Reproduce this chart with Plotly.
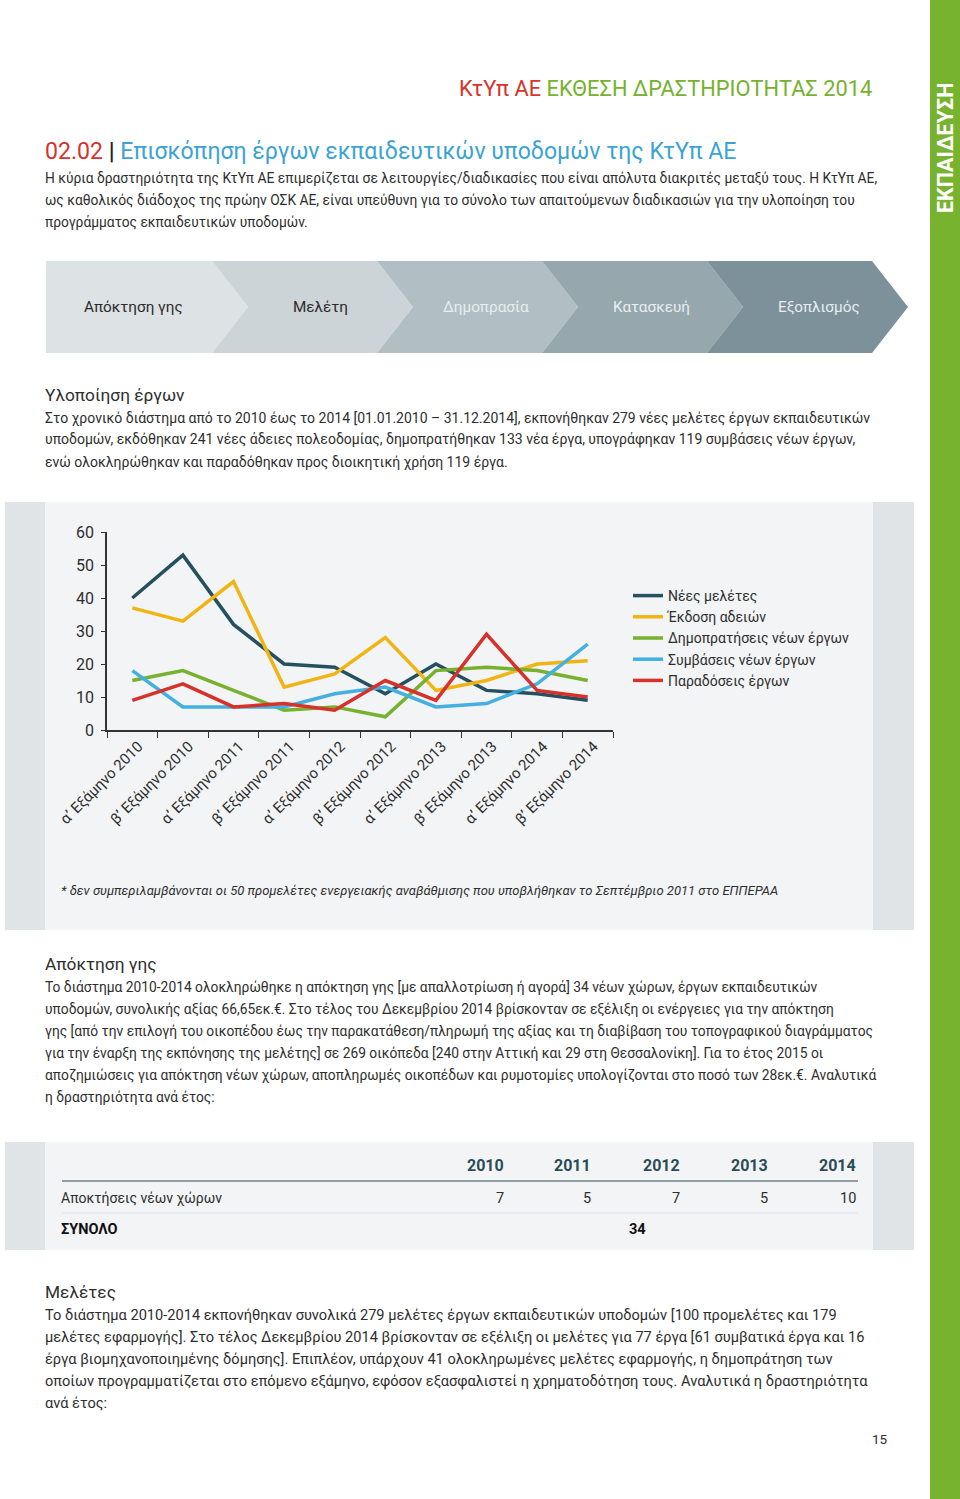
import plotly.graph_objects as go

W, H = 960, 1499

def X(px):
    return px / W

def Y(py):
    return 1 - py / H

# ---------------- data ----------------
periods = ["α’ Εξάμηνο 2010", "β’ Εξάμηνο 2010", "α’ Εξάμηνο 2011", "β’ Εξάμηνο 2011",
           "α’ Εξάμηνο 2012", "β’ Εξάμηνο 2012", "α’ Εξάμηνο 2013", "β’ Εξάμηνο 2013",
           "α’ Εξάμηνο 2014", "β’ Εξάμηνο 2014"]
new_studies = [40, 53, 32, 20, 19, 11, 20, 12, 11, 9]
permits = [37, 33, 45, 13, 17, 28, 12, 15, 20, 21]
tenders = [15, 18, 12, 6, 7, 4, 18, 19, 18, 15]
contracts = [18, 7, 7, 7, 11, 13, 7, 8, 14, 26]
deliveries = [9, 14, 7, 8, 6, 15, 9, 29, 12, 10]

series_names = ["Νέες μελέτες", "Έκδοση αδειών", "Δημοπρατήσεις νέων έργων",
                "Συμβάσεις νέων έργων", "Παραδόσεις έργων"]
series_colors = ["#24505f", "#f0b515", "#77b12f", "#43b0e0", "#d7312a"]

y_ticks = [0, 10, 20, 30, 40, 50, 60]

stages = ["Απόκτηση γης", "Μελέτη", "Δημοπρασία", "Κατασκευή", "Εξοπλισμός"]
stage_colors = ["#dde2e5", "#cdd4d8", "#b1bec4", "#96a7ae", "#7c9199"]
stage_text_colors = ["#2b2b2b", "#2b2b2b", "#e8edef", "#e8edef", "#e8edef"]

table_years = ["2010", "2011", "2012", "2013", "2014"]
acquisitions = [7, 5, 7, 5, 10]
table_row_label = "Αποκτήσεις νέων χώρων"
table_total_label = "ΣΥΝΟΛΟ"

FONT = "Roboto"
TXT = "#2e2e2e"

fig = go.Figure()
for name, vals, col in zip(series_names,
                           [new_studies, permits, tenders, contracts, deliveries],
                           series_colors):
    fig.add_trace(go.Scatter(x=periods, y=vals, name=name, mode="lines",
                             legendgroup=name,
                             line=dict(color=col, width=3.5)))

shapes = []
ann = []

# green side bar
shapes.append(dict(type="rect", xref="paper", yref="paper", x0=X(930), x1=X(960),
                   y0=0, y1=1, fillcolor="#77b32e", line_width=0, layer="below"))
ann.append(dict(text="<b>ΕΚΠΑΙΔΕΥΣΗ</b>", x=X(945), y=Y(148), textangle=-90,
                font=dict(family=FONT, size=21.5, color="white"),
                xanchor="center", yanchor="middle"))

# grey panels
def panel(y0, y1):
    shapes.append(dict(type="rect", xref="paper", yref="paper", x0=X(5), x1=X(914),
                       y0=Y(y1), y1=Y(y0), fillcolor="#f3f4f6", line_width=0, layer="below"))
    shapes.append(dict(type="rect", xref="paper", yref="paper", x0=X(5), x1=X(45),
                       y0=Y(y1), y1=Y(y0), fillcolor="#e0e4e7", line_width=0, layer="below"))
    shapes.append(dict(type="rect", xref="paper", yref="paper", x0=X(873), x1=X(914),
                       y0=Y(y1), y1=Y(y0), fillcolor="#e0e4e7", line_width=0, layer="below"))

panel(502, 930)
panel(1142, 1250)

# chevrons
top, bot, mid = 261, 353, 307
start = 46
step = 165
tip = 36
text_x = [133, 320, 486, 651, 819]
for i, (lab, col, tcol) in enumerate(zip(stages, stage_colors, stage_text_colors)):
    xe = start + (i + 1) * step + 1
    if i == 0:
        xs = start
        path = f"M {X(xs)} {Y(top)} L {X(xe)} {Y(top)} L {X(xe + tip)} {Y(mid)} L {X(xe)} {Y(bot)} L {X(xs)} {Y(bot)} Z"
    else:
        xs = start + i * step + 1
        path = (f"M {X(xs)} {Y(top)} L {X(xe)} {Y(top)} L {X(xe + tip)} {Y(mid)} "
                f"L {X(xe)} {Y(bot)} L {X(xs)} {Y(bot)} L {X(xs + tip)} {Y(mid)} Z")
    shapes.append(dict(type="path", xref="paper", yref="paper", path=path,
                       fillcolor=col, line_width=0, layer="below"))
    ann.append(dict(text=lab, x=X(text_x[i]), y=Y(mid), xanchor="center", yanchor="middle",
                    font=dict(family=FONT, size=15.3, color=tcol)))

# header
ann.append(dict(text="<span style='color:#d5332b'>ΚτΥπ ΑΕ</span> ΕΚΘΕΣΗ ΔΡΑΣΤΗΡΙΟΤΗΤΑΣ 2014",
                x=X(874), y=Y(88), xanchor="right", yanchor="middle",
                font=dict(family=FONT, size=21.8, color="#77b12f")))
ann.append(dict(text="<span style='color:#d5332b'>02.02</span> <span style='color:#222'><b>|</b></span> Επισκόπηση έργων εκπαιδευτικών υποδομών της ΚτΥπ ΑΕ",
                x=X(43), y=Y(152), xanchor="left", yanchor="middle",
                font=dict(family=FONT, size=23.1, color="#3ba3d3")))

def para(lines, y0, size=13.8, dy=22):
    for k, line in enumerate(lines):
        ann.append(dict(text=line, x=X(43), y=Y(y0 + k * dy), xanchor="left", yanchor="middle",
                        font=dict(family=FONT, size=size, color=TXT)))

def heading(text, y):
    ann.append(dict(text=text, x=X(43), y=Y(y), xanchor="left", yanchor="middle",
                    font=dict(family=FONT, size=17.3, color=TXT)))

para(["Η κύρια δραστηριότητα της ΚτΥπ ΑΕ επιμερίζεται σε λειτουργίες/διαδικασίες που είναι απόλυτα διακριτές μεταξύ τους. Η ΚτΥπ ΑΕ,",
      "ως καθολικός διάδοχος της πρώην ΟΣΚ ΑΕ, είναι υπεύθυνη για το σύνολο των απαιτούμενων διαδικασιών για την υλοποίηση του",
      "προγράμματος εκπαιδευτικών υποδομών."], 178)

heading("Υλοποίηση έργων", 395)
para(["Στο χρονικό διάστημα από το 2010 έως το 2014 [01.01.2010 – 31.12.2014], εκπονήθηκαν 279 νέες μελέτες έργων εκπαιδευτικών",
      "υποδομών, εκδόθηκαν 241 νέες άδειες πολεοδομίας, δημοπρατήθηκαν 133 νέα έργα, υπογράφηκαν 119 συμβάσεις νέων έργων,",
      "ενώ ολοκληρώθηκαν και παραδόθηκαν προς διοικητική χρήση 119 έργα."], 418, size=14)

ann.append(dict(text="<i>* δεν συμπεριλαμβάνονται οι 50 προμελέτες ενεργειακής αναβάθμισης που υποβλήθηκαν το Σεπτέμβριο 2011 στο ΕΠΠΕΡΑΑ</i>",
                x=X(59), y=Y(890), xanchor="left", yanchor="middle",
                font=dict(family=FONT, size=13, color=TXT)))

heading("Απόκτηση γης", 964)
para(["Το διάστημα 2010-2014 ολοκληρώθηκε η απόκτηση γης [με απαλλοτρίωση ή αγορά] 34 νέων χώρων, έργων εκπαιδευτικών",
      "υποδομών, συνολικής αξίας 66,65εκ.€. Στο τέλος του Δεκεμβρίου 2014 βρίσκονταν σε εξέλιξη οι ενέργειες για την απόκτηση",
      "γης [από την επιλογή του οικοπέδου έως την παρακατάθεση/πληρωμή της αξίας και τη διαβίβαση του τοπογραφικού διαγράμματος",
      "για την έναρξη της εκπόνησης της μελέτης] σε 269 οικόπεδα [240 στην Αττική και 29 στη Θεσσαλονίκη]. Για το έτος 2015 οι",
      "αποζημιώσεις για απόκτηση νέων χώρων, αποπληρωμές οικοπέδων και ρυμοτομίες υπολογίζονται στο ποσό των 28εκ.€. Αναλυτικά",
      "η δραστηριότητα ανά έτος:"], 987)

# table
year_x = [506, 593, 682, 770, 858]
for yx, yr, v in zip(year_x, table_years, acquisitions):
    ann.append(dict(text=f"<b>{yr}</b>", x=X(yx), y=Y(1165), xanchor="right", yanchor="middle",
                    font=dict(family=FONT, size=16, color="#2a4b58")))
    ann.append(dict(text=str(v), x=X(yx), y=Y(1198), xanchor="right", yanchor="middle",
                    font=dict(family=FONT, size=14.5, color=TXT)))
shapes.append(dict(type="line", xref="paper", yref="paper", x0=X(62), x1=X(858),
                   y0=Y(1181), y1=Y(1181), line=dict(color="#8e9fa7", width=2)))
shapes.append(dict(type="line", xref="paper", yref="paper", x0=X(62), x1=X(858),
                   y0=Y(1213), y1=Y(1213), line=dict(color="#dfe3e6", width=1)))
ann.append(dict(text=table_row_label, x=X(59), y=Y(1198), xanchor="left", yanchor="middle",
                font=dict(family=FONT, size=14, color=TXT)))
ann.append(dict(text=f"<b>{table_total_label}</b>", x=X(59), y=Y(1229), xanchor="left", yanchor="middle",
                font=dict(family=FONT, size=14.5, color="#111")))
ann.append(dict(text=f"<b>{sum(acquisitions)}</b>", x=X(637), y=Y(1229), xanchor="center", yanchor="middle",
                font=dict(family=FONT, size=14.5, color="#111")))

heading("Μελέτες", 1292)
para(["Το διάστημα 2010-2014 εκπονήθηκαν συνολικά 279 μελέτες έργων εκπαιδευτικών υποδομών [100 προμελέτες και 179",
      "μελέτες εφαρμογής]. Στο τέλος Δεκεμβρίου 2014 βρίσκονταν σε εξέλιξη οι μελέτες για 77 έργα [61 συμβατικά έργα και 16",
      "έργα βιομηχανοποιημένης δόμησης]. Επιπλέον, υπάρχουν 41 ολοκληρωμένες μελέτες εφαρμογής, η δημοπράτηση των",
      "οποίων προγραμματίζεται στο επόμενο εξάμηνο, εφόσον εξασφαλιστεί η χρηματοδότηση τους. Αναλυτικά η δραστηριότητα",
      "ανά έτος:"], 1315, size=14.6)

ann.append(dict(text="15", x=X(880), y=Y(1439), xanchor="center", yanchor="middle",
                font=dict(family=FONT, size=13.5, color=TXT)))

for a in ann:
    a.setdefault("xref", "paper")
    a.setdefault("yref", "paper")
    a.setdefault("showarrow", False)

fig.update_layout(
    width=W, height=H,
    margin=dict(l=0, r=0, t=0, b=0, autoexpand=False),
    paper_bgcolor="white",
    plot_bgcolor="rgba(0,0,0,0)",
    font=dict(family=FONT, color=TXT),
    shapes=shapes,
    annotations=ann,
    showlegend=True,
    legend=dict(x=X(628), y=Y(580), xanchor="left", yanchor="top",
                bgcolor="rgba(0,0,0,0)", font=dict(family=FONT, size=14, color=TXT),
                itemwidth=30, tracegroupgap=3.8, traceorder="normal"),
    xaxis=dict(domain=[X(107), X(613)], type="category", range=[-0.5, len(periods) - 0.5],
               showgrid=False, automargin=False,
               showline=True, linecolor="#333", linewidth=1.5, ticks="outside",
               ticklen=6, tickcolor="#333", tickson="boundaries", tickangle=-45,
               ticklabelshift=6,
               tickfont=dict(family=FONT, size=15, color=TXT), zeroline=False,
               fixedrange=True),
    yaxis=dict(domain=[Y(730), Y(532)], range=[0, 60], tickvals=y_ticks, showgrid=False,
               automargin=False,
               showline=True, linecolor="#333", linewidth=1.5, ticks="outside",
               ticklen=4, tickcolor="#333", zeroline=False,
               tickfont=dict(family=FONT, size=16, color=TXT), ticklabelstandoff=4),
)

fig.write_html("out.html", config={"displayModeBar": False},
               post_script="document.body.style.margin='0px';")
